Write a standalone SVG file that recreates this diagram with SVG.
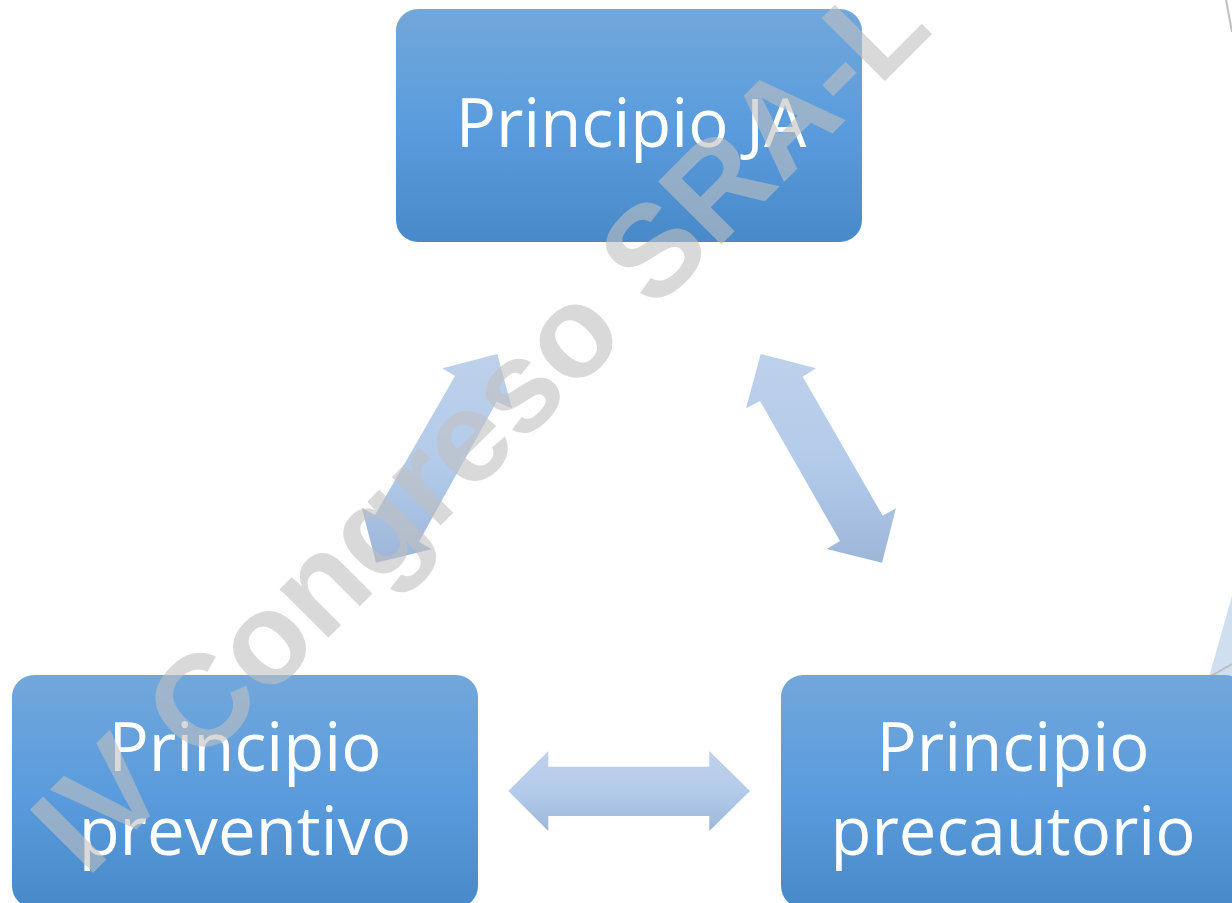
<svg xmlns="http://www.w3.org/2000/svg" width="1232" height="903" viewBox="0 0 1232 903">
<defs>
<linearGradient id="boxGrad" x1="0" y1="0" x2="0" y2="1">
<stop offset="0" stop-color="#72A7DB"/>
<stop offset="0.5" stop-color="#5A9CDD"/>
<stop offset="1" stop-color="#4889C9"/>
</linearGradient>
<linearGradient id="arrowGrad" x1="0" y1="0" x2="0" y2="1">
<stop offset="0" stop-color="#BED1EB"/>
<stop offset="0.55" stop-color="#B2CAEA"/>
<stop offset="1" stop-color="#9DB5D7"/>
</linearGradient>
<style>
.box{fill:url(#boxGrad);}
.lbl{font-family:"Open Sans","Noto Sans","Liberation Sans",sans-serif;font-size:67px;fill:#FFFFFF;text-anchor:middle;}
.arrow{fill:url(#arrowGrad);}
.wm{font-family:"Liberation Sans",Arial,sans-serif;font-weight:bold;font-size:130px;fill:#C0C0C0;fill-opacity:0.6;}
.frag{fill:none;stroke:#BFBFBF;stroke-width:2;}
</style>
</defs>
<rect width="1232" height="903" fill="#FFFFFF"/>
<g id="fragments">
<path class="frag" d="M1226,0 Q1229,15 1232,32"/>
<polygon points="1232,596 1209,677 1232,677" fill="#CFDFF0"/>
<path class="frag" d="M1211,676 L1232,664" stroke-width="1.5"/>
</g>
<g id="node-ja">
<rect class="box" x="396" y="9" width="466" height="233" rx="22" ry="22"/>
<text class="lbl" x="631" y="147">Principio JA</text>
</g>
<g id="node-preventivo">
<rect class="box" x="12" y="675" width="466" height="233" rx="22" ry="22"/>
<text class="lbl" x="245" y="771">Principio</text>
<text class="lbl" x="245" y="855">preventivo</text>
</g>
<g id="node-precautorio">
<rect class="box" x="781" y="675" width="466" height="233" rx="22" ry="22"/>
<text class="lbl" x="1013" y="771">Principio</text>
<text class="lbl" x="1013" y="855">precautorio</text>
</g>
<g id="connectors">
<polygon class="arrow" points="497.3,354 512,408.3 496.7,401.7 419,541.7 431.7,549.3 376,562.7 361.7,507.7 375,515 455,376 442.3,368.3"/>
<polygon class="arrow" points="760.7,354 816,368.3 802.7,376.7 882.7,515.7 896,508.3 882,562.7 826.7,549 840,541 760,401 746,408.3"/>
<polygon class="arrow" points="508.3,791 548.3,751 548.3,766.7 709.3,766.7 709.3,751 750,791 709.3,831 709.3,816 548.3,816 548.3,831"/>
</g>
<g id="watermark">
<text class="wm" transform="translate(87,879) rotate(-45)">IV Congreso SRA-L</text>
</g>
</svg>
